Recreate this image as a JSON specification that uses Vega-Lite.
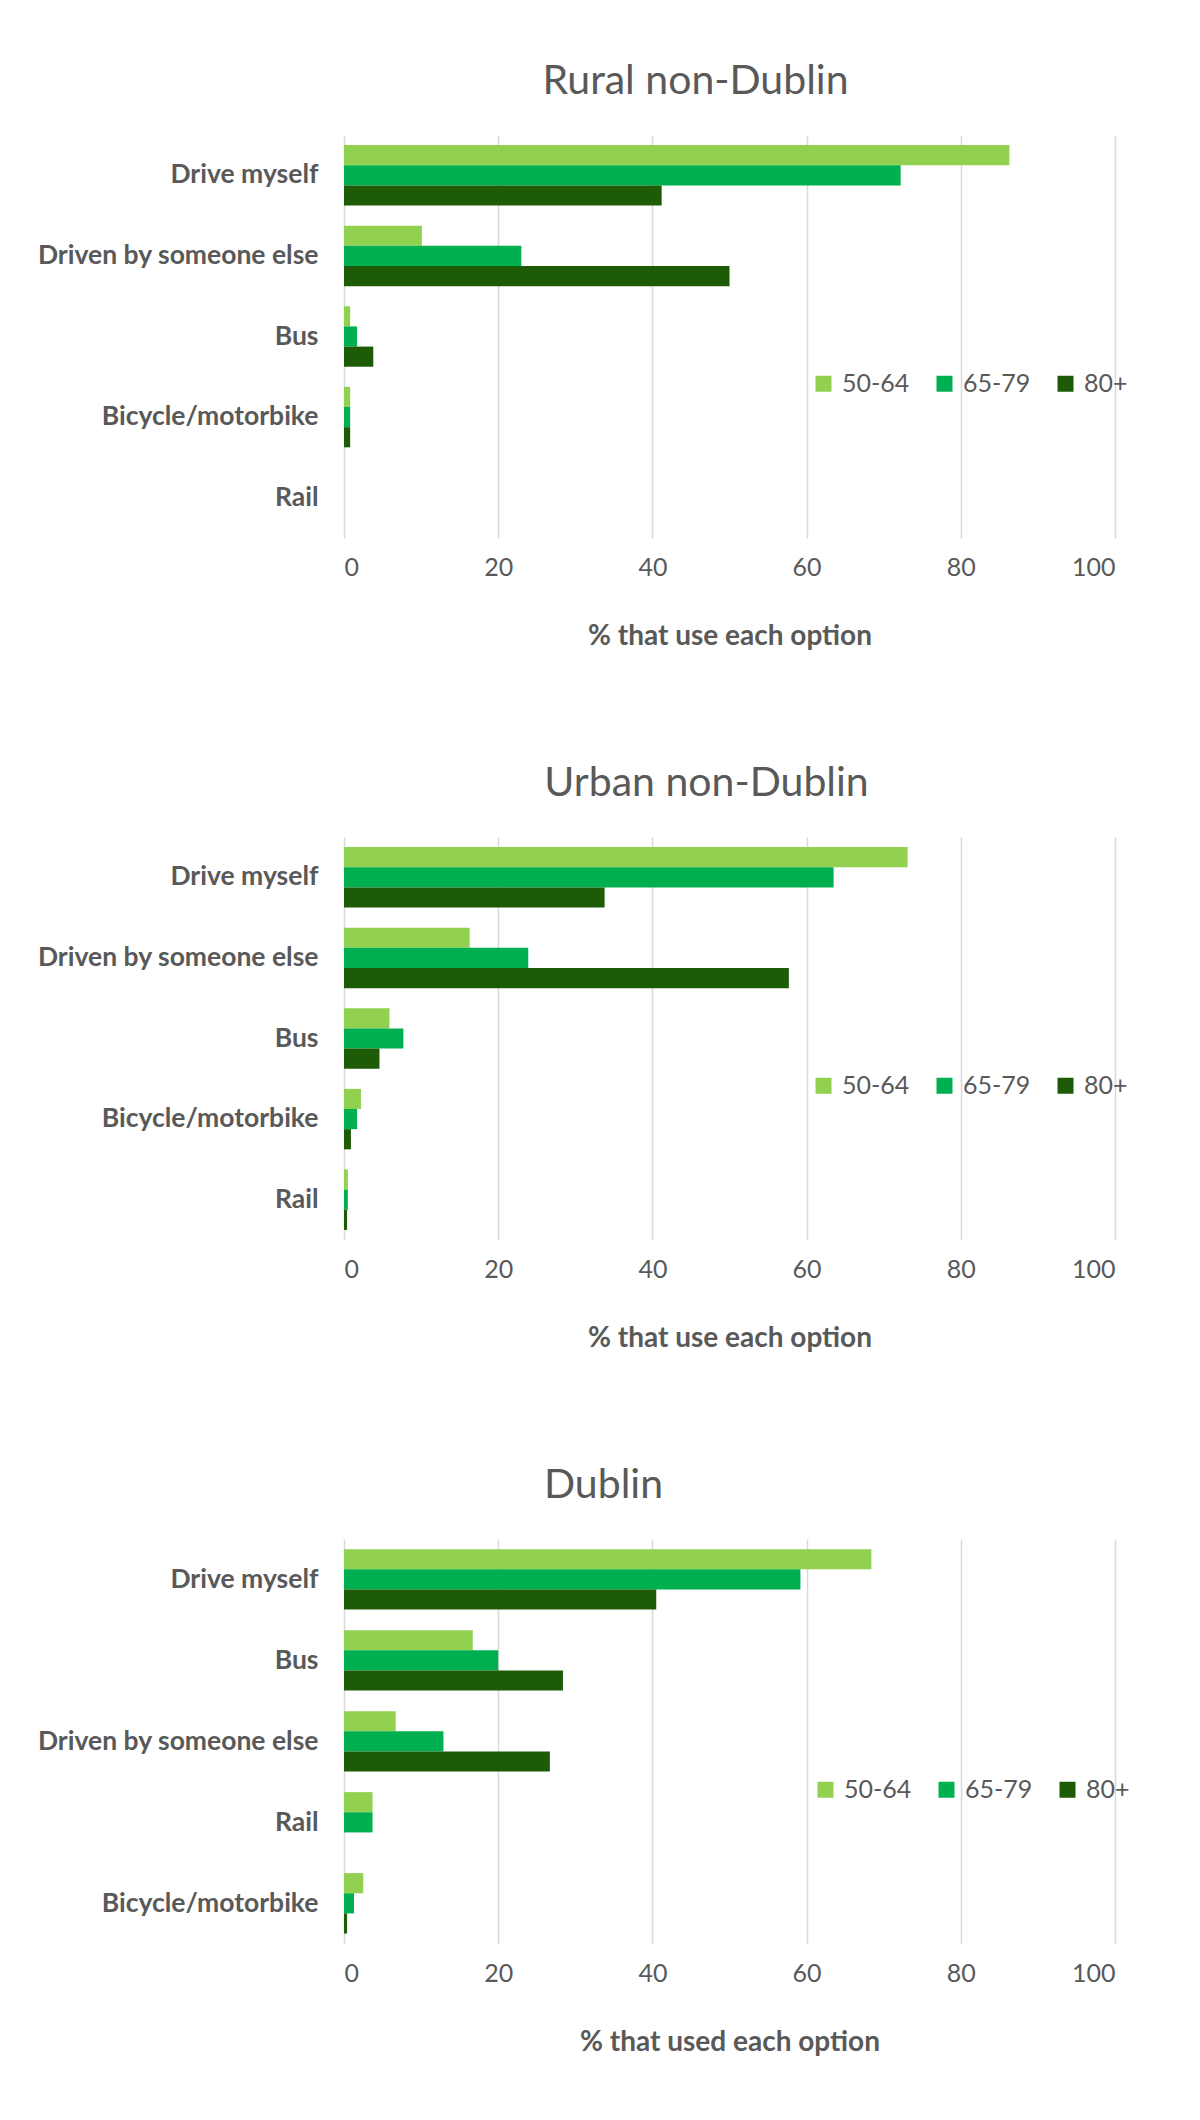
{
  "$schema": "https://vega.github.io/schema/vega-lite/v6.json",
  "background": "white",
  "padding": {"left": 36, "top": 61, "right": 10, "bottom": 10},
  "datasets": {
    "rows": [
      {"region": "Rural non-Dublin", "mode": "Drive myself", "age": "50-64", "pct": 86.3},
      {"region": "Rural non-Dublin", "mode": "Drive myself", "age": "65-79", "pct": 72.2},
      {"region": "Rural non-Dublin", "mode": "Drive myself", "age": "80+", "pct": 41.2},
      {"region": "Rural non-Dublin", "mode": "Driven by someone else", "age": "50-64", "pct": 10.1},
      {"region": "Rural non-Dublin", "mode": "Driven by someone else", "age": "65-79", "pct": 23.0},
      {"region": "Rural non-Dublin", "mode": "Driven by someone else", "age": "80+", "pct": 50.0},
      {"region": "Rural non-Dublin", "mode": "Bus", "age": "50-64", "pct": 0.8},
      {"region": "Rural non-Dublin", "mode": "Bus", "age": "65-79", "pct": 1.7},
      {"region": "Rural non-Dublin", "mode": "Bus", "age": "80+", "pct": 3.8},
      {"region": "Rural non-Dublin", "mode": "Bicycle/motorbike", "age": "50-64", "pct": 0.8},
      {"region": "Rural non-Dublin", "mode": "Bicycle/motorbike", "age": "65-79", "pct": 0.8},
      {"region": "Rural non-Dublin", "mode": "Bicycle/motorbike", "age": "80+", "pct": 0.8},
      {"region": "Rural non-Dublin", "mode": "Rail", "age": "50-64", "pct": 0},
      {"region": "Rural non-Dublin", "mode": "Rail", "age": "65-79", "pct": 0},
      {"region": "Rural non-Dublin", "mode": "Rail", "age": "80+", "pct": 0},
      {"region": "Urban non-Dublin", "mode": "Drive myself", "age": "50-64", "pct": 73.1},
      {"region": "Urban non-Dublin", "mode": "Drive myself", "age": "65-79", "pct": 63.5},
      {"region": "Urban non-Dublin", "mode": "Drive myself", "age": "80+", "pct": 33.8},
      {"region": "Urban non-Dublin", "mode": "Driven by someone else", "age": "50-64", "pct": 16.3},
      {"region": "Urban non-Dublin", "mode": "Driven by someone else", "age": "65-79", "pct": 23.9},
      {"region": "Urban non-Dublin", "mode": "Driven by someone else", "age": "80+", "pct": 57.7},
      {"region": "Urban non-Dublin", "mode": "Bus", "age": "50-64", "pct": 5.9},
      {"region": "Urban non-Dublin", "mode": "Bus", "age": "65-79", "pct": 7.7},
      {"region": "Urban non-Dublin", "mode": "Bus", "age": "80+", "pct": 4.6},
      {"region": "Urban non-Dublin", "mode": "Bicycle/motorbike", "age": "50-64", "pct": 2.2},
      {"region": "Urban non-Dublin", "mode": "Bicycle/motorbike", "age": "65-79", "pct": 1.7},
      {"region": "Urban non-Dublin", "mode": "Bicycle/motorbike", "age": "80+", "pct": 0.9},
      {"region": "Urban non-Dublin", "mode": "Rail", "age": "50-64", "pct": 0.5},
      {"region": "Urban non-Dublin", "mode": "Rail", "age": "65-79", "pct": 0.5},
      {"region": "Urban non-Dublin", "mode": "Rail", "age": "80+", "pct": 0.4},
      {"region": "Dublin", "mode": "Drive myself", "age": "50-64", "pct": 68.4},
      {"region": "Dublin", "mode": "Drive myself", "age": "65-79", "pct": 59.2},
      {"region": "Dublin", "mode": "Drive myself", "age": "80+", "pct": 40.5},
      {"region": "Dublin", "mode": "Bus", "age": "50-64", "pct": 16.7},
      {"region": "Dublin", "mode": "Bus", "age": "65-79", "pct": 20.0},
      {"region": "Dublin", "mode": "Bus", "age": "80+", "pct": 28.4},
      {"region": "Dublin", "mode": "Driven by someone else", "age": "50-64", "pct": 6.7},
      {"region": "Dublin", "mode": "Driven by someone else", "age": "65-79", "pct": 12.9},
      {"region": "Dublin", "mode": "Driven by someone else", "age": "80+", "pct": 26.7},
      {"region": "Dublin", "mode": "Rail", "age": "50-64", "pct": 3.7},
      {"region": "Dublin", "mode": "Rail", "age": "65-79", "pct": 3.7},
      {"region": "Dublin", "mode": "Rail", "age": "80+", "pct": 0},
      {"region": "Dublin", "mode": "Bicycle/motorbike", "age": "50-64", "pct": 2.5},
      {"region": "Dublin", "mode": "Bicycle/motorbike", "age": "65-79", "pct": 1.3},
      {"region": "Dublin", "mode": "Bicycle/motorbike", "age": "80+", "pct": 0.4}
    ]
  },
  "spacing": 113,
  "vconcat": [
    {
      "title": {"text": "Rural non-Dublin", "dx": -34},
      "data": {"name": "rows"},
      "transform": [{"filter": "datum.region === 'Rural non-Dublin'"}],
      "width": 771,
      "height": 403,
      "mark": {"type": "bar"},
      "encoding": {
        "y": {"field": "mode", "type": "nominal", "sort": ["Drive myself", "Driven by someone else", "Bus", "Bicycle/motorbike", "Rail"], "scale": {"paddingInner": 0.25, "paddingOuter": 0.125}, "axis": {"title": null}},
        "yOffset": {"field": "age", "sort": ["50-64", "65-79", "80+"], "scale": {"paddingInner": 0, "paddingOuter": 0}},
        "x": {"field": "pct", "type": "quantitative", "scale": {"domain": [0, 100]}, "axis": {"title": "% that use each option", "values": [0, 20, 40, 60, 80, 100]}},
        "color": {"field": "age", "type": "nominal", "scale": {"domain": ["50-64", "65-79", "80+"], "range": ["#92D050", "#00B050", "#1E5B07"]}, "legend": {"legendX": 467, "legendY": 236}}
      }
    },
    {
      "title": {"text": "Urban non-Dublin", "dx": -23},
      "data": {"name": "rows"},
      "transform": [{"filter": "datum.region === 'Urban non-Dublin'"}],
      "width": 771,
      "height": 403,
      "mark": {"type": "bar"},
      "encoding": {
        "y": {"field": "mode", "type": "nominal", "sort": ["Drive myself", "Driven by someone else", "Bus", "Bicycle/motorbike", "Rail"], "scale": {"paddingInner": 0.25, "paddingOuter": 0.125}, "axis": {"title": null}},
        "yOffset": {"field": "age", "sort": ["50-64", "65-79", "80+"], "scale": {"paddingInner": 0, "paddingOuter": 0}},
        "x": {"field": "pct", "type": "quantitative", "scale": {"domain": [0, 100]}, "axis": {"title": "% that use each option", "values": [0, 20, 40, 60, 80, 100]}},
        "color": {"field": "age", "type": "nominal", "scale": {"domain": ["50-64", "65-79", "80+"], "range": ["#92D050", "#00B050", "#1E5B07"]}, "legend": {"legendX": 467, "legendY": 236}}
      }
    },
    {
      "title": {"text": "Dublin", "dx": -126},
      "data": {"name": "rows"},
      "transform": [{"filter": "datum.region === 'Dublin'"}],
      "width": 771,
      "height": 405,
      "mark": {"type": "bar"},
      "encoding": {
        "y": {"field": "mode", "type": "nominal", "sort": ["Drive myself", "Bus", "Driven by someone else", "Rail", "Bicycle/motorbike"], "scale": {"paddingInner": 0.25, "paddingOuter": 0.125}, "axis": {"title": null}},
        "yOffset": {"field": "age", "sort": ["50-64", "65-79", "80+"], "scale": {"paddingInner": 0, "paddingOuter": 0}},
        "x": {"field": "pct", "type": "quantitative", "scale": {"domain": [0, 100]}, "axis": {"title": "% that used each option", "values": [0, 20, 40, 60, 80, 100]}},
        "color": {"field": "age", "type": "nominal", "scale": {"domain": ["50-64", "65-79", "80+"], "range": ["#92D050", "#00B050", "#1E5B07"]}, "legend": {"legendX": 469, "legendY": 238}}
      }
    }
  ],
  "resolve": {"legend": {"color": "independent"}},
  "config": {
    "font": "Lato",
    "view": {"stroke": null},
    "title": {"fontSize": 41, "fontWeight": "normal", "color": "#595959", "anchor": "middle", "frame": "group", "offset": 32},
    "axis": {"labelColor": "#595959", "titleColor": "#595959", "ticks": false, "domain": false},
    "axisY": {"grid": false, "labelFontSize": 26.5, "labelFontWeight": "bold", "labelPadding": 26, "labelLimit": 500},
    "axisX": {"grid": true, "gridColor": "#D9D9D9", "gridWidth": 1.5, "labelFontSize": 25, "labelPadding": 17, "titleFontSize": 28, "titleFontWeight": "bold", "titlePadding": 42},
    "legend": {"orient": "none", "direction": "horizontal", "title": null, "symbolType": "square", "symbolSize": 256, "symbolStrokeWidth": 0, "labelFontSize": 25, "labelColor": "#595959", "labelOffset": 6, "columnPadding": 22, "padding": 0}
  }
}
